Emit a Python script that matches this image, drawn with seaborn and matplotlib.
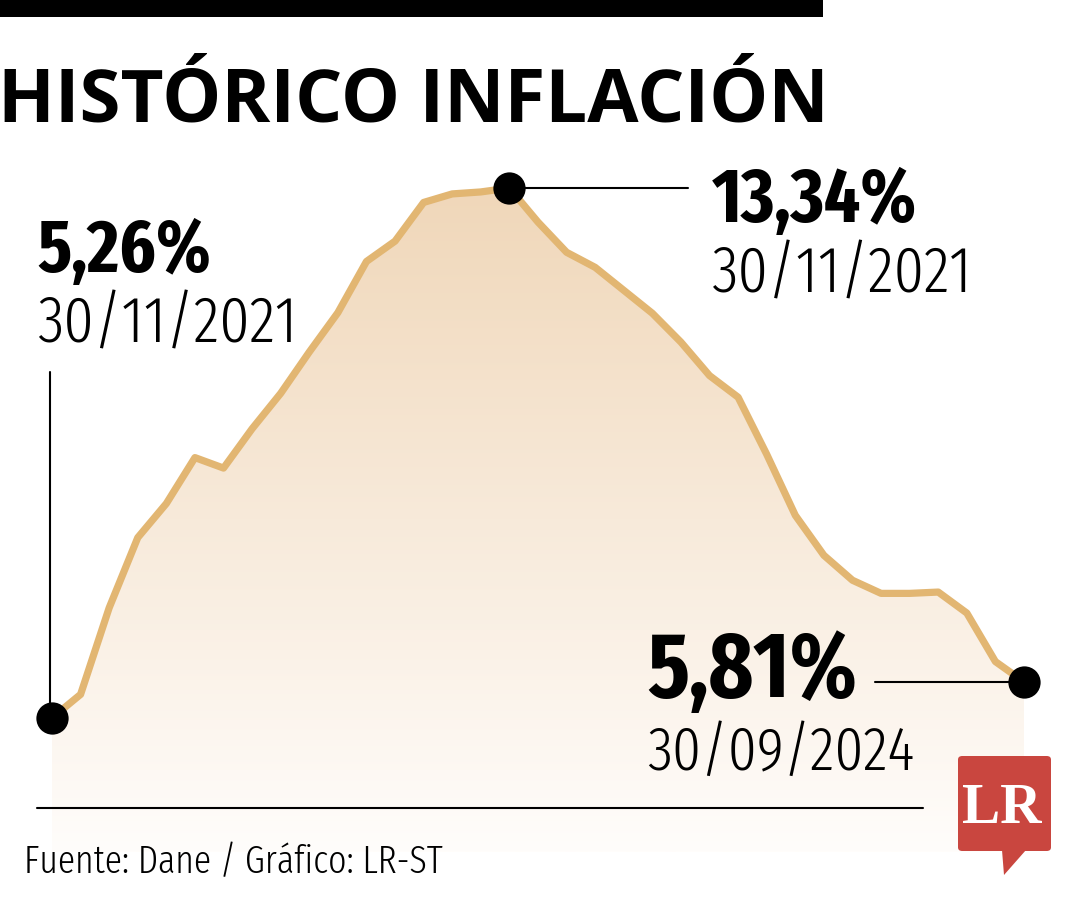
import numpy as np
import pandas as pd
import seaborn as sns
import matplotlib
matplotlib.use("Agg")
import matplotlib.pyplot as plt
from matplotlib.patches import Rectangle, FancyBboxPatch, Polygon
from matplotlib.colors import to_rgb
from matplotlib.textpath import TextPath
from matplotlib.font_manager import FontProperties

# ---------------- data ----------------
months = ["2021-11", "2021-12", "2022-01", "2022-02", "2022-03", "2022-04", "2022-05",
          "2022-06", "2022-07", "2022-08", "2022-09", "2022-10", "2022-11", "2022-12",
          "2023-01", "2023-02", "2023-03", "2023-04", "2023-05", "2023-06", "2023-07",
          "2023-08", "2023-09", "2023-10", "2023-11", "2023-12", "2024-01", "2024-02",
          "2024-03", "2024-04", "2024-05", "2024-06", "2024-07", "2024-08", "2024-09"]
inflation = [5.26, 5.62, 6.94, 8.01, 8.53, 9.23, 9.07, 9.67, 10.21, 10.84, 11.44,
             12.22, 12.53, 13.12, 13.25, 13.28, 13.34, 12.82, 12.36, 12.13, 11.78,
             11.43, 10.99, 10.48, 10.15, 9.28, 8.35, 7.74, 7.36, 7.16, 7.16, 7.18,
             6.86, 6.12, 5.81]
title = "HISTÓRICO INFLACIÓN"
labels_value = ["5,26%", "13,34%", "5,81%"]
labels_date = ["30/11/2021", "30/11/2021", "30/09/2024"]
source = "Fuente: Dane / Gráfico: LR-ST"
logo = "LR"

df = pd.DataFrame({"idx": np.arange(len(months)), "month": months, "value": inflation})

# ---------------- figure ----------------
sns.set_theme(style="white")
plt.rcParams["font.family"] = ["Fira Sans Extra Condensed", "DejaVu Sans"]
plt.rcParams["text.color"] = "black"

W, H = 1080, 900
DPI = 100
fig = plt.figure(figsize=(W / DPI, H / DPI), dpi=DPI)
fig.patch.set_facecolor("white")
ax = fig.add_axes([0, 0, 1, 1])

n = len(months)
x0_px, x1_px = 52, 1024
dx = (x1_px - x0_px) / (n - 1)
v_lo, v_hi = min(inflation), max(inflation)
y_lo_px, y_hi_px = 718, 188
ppu = (y_lo_px - y_hi_px) / (v_hi - v_lo)

def X(px):
    return (px - x0_px) / dx

def Y(py):
    return v_lo - (py - y_lo_px) / ppu

def fx(px):
    return px / W

def fy(py):
    return 1 - py / H

PT2PX = DPI / 72.0

def fit_text(s, left, baseline, width, cap, family, weight, color="black", ha="left",
             wexp=0.6):
    """Place real text so its ink roughly spans `width` px and its cap height is `cap` px."""
    fp = FontProperties(family=family, weight=weight)
    ref = 100.0
    ext = TextPath((0, 0), s, size=ref, prop=fp).get_extents()
    capext = TextPath((0, 0), "H", size=ref, prop=fp).get_extents()
    fs_w = ref * width / (ext.width * PT2PX)
    fs_h = ref * cap / (capext.y1 * PT2PX)
    fs = fs_w ** wexp * fs_h ** (1 - wexp)
    k = fs / ref * PT2PX
    if ha == "center":
        xo = left - (ext.x0 + ext.width / 2) * k
    else:
        xo = left - ext.x0 * k
    fig.text(fx(xo), fy(baseline), s, fontsize=fs, family=family, weight=weight,
             color=color, ha="left", va="baseline")

# top black bar
fig.add_artist(Rectangle((0, fy(17)), fx(823), 17 / H, transform=fig.transFigure,
                         color="black", lw=0))

# title
fit_text(title, 5, 122, 815, 55, ["Open Sans", "DejaVu Sans"], 700, wexp=0.9)

# gradient fill under the curve
fill_bottom = Y(852)
top_c = np.array(to_rgb("#f0d7b9"))
bot_c = np.array(to_rgb("#fffdfb"))
t = np.linspace(0, 1, 256)[:, None]
grad = (top_c[None, :] * (1 - t) + bot_c[None, :] * t)[:, None, :]
xs = df["idx"].to_numpy()
poly = ax.fill_between(xs, df["value"], fill_bottom, facecolor="none", lw=0)
img = ax.imshow(grad, extent=[xs[0], xs[-1] + 0.3, fill_bottom, v_hi], aspect="auto",
                origin="upper", zorder=1, interpolation="bilinear")
img.set_clip_path(poly.get_paths()[0], transform=ax.transData)

# line
sns.lineplot(data=df, x="idx", y="value", ax=ax, color="#e2b672", linewidth=5.2,
             zorder=3, legend=False)
ax.set_xlim(X(0), X(W))
ax.set_ylim(Y(H), Y(0))
ax.set_axis_off()

# highlighted points
i_first, i_peak, i_last = 0, int(np.argmax(inflation)), n - 1
pts = df.iloc[[i_first, i_peak, i_last]]
ax.scatter(pts["idx"], pts["value"], s=540, color="black", zorder=5, lw=0)

# connector lines
ax.plot([X(50), X(50)], [inflation[i_first], Y(372)], color="black", lw=1.5, zorder=4)
ax.plot([i_peak, X(688)], [inflation[i_peak], inflation[i_peak]], color="black", lw=1.5, zorder=4)
ax.plot([X(875), i_last], [inflation[i_last], inflation[i_last]], color="black", lw=1.5, zorder=4)

# baseline
ax.plot([X(37), X(923)], [Y(808), Y(808)], color="black", lw=1.5, zorder=4)

# annotations
vfam = ["Fira Sans Extra Condensed", "DejaVu Sans"]
fit_text(labels_value[0], 38, 272, 165, 55, vfam, 700)
fit_text(labels_date[0], 38, 343, 247, 49, vfam, 300, wexp=0.8)
fit_text(labels_value[1], 712, 222, 206, 52, vfam, 700)
fit_text(labels_date[1], 713, 293, 249, 48, vfam, 300, wexp=0.8)
fit_text(labels_value[2], 648, 697, 205, 65, vfam, 700)
fit_text(labels_date[2], 648, 770, 257, 48, vfam, 300, wexp=0.8)

# source
fit_text(source, 27, 873, 410, 30, vfam, 300, wexp=0.9)

# LR logo
red = "#c9463f"
fig.add_artist(FancyBboxPatch((fx(958), fy(851)), (1051 - 958) / W, (851 - 756) / H,
                              boxstyle="round,pad=0,rounding_size=0.004",
                              transform=fig.transFigure, color=red, lw=0))
fig.add_artist(Polygon([(fx(1002), fy(850)), (fx(1026), fy(850)), (fx(1004), fy(875))],
                       closed=True, transform=fig.transFigure, color=red, lw=0))
fit_text(logo, 1003, 823, 69, 43, ["Liberation Serif", "DejaVu Serif"], 700,
         color="white", ha="center", wexp=0.5)

fig.savefig("out.png", dpi=DPI, facecolor="white")
